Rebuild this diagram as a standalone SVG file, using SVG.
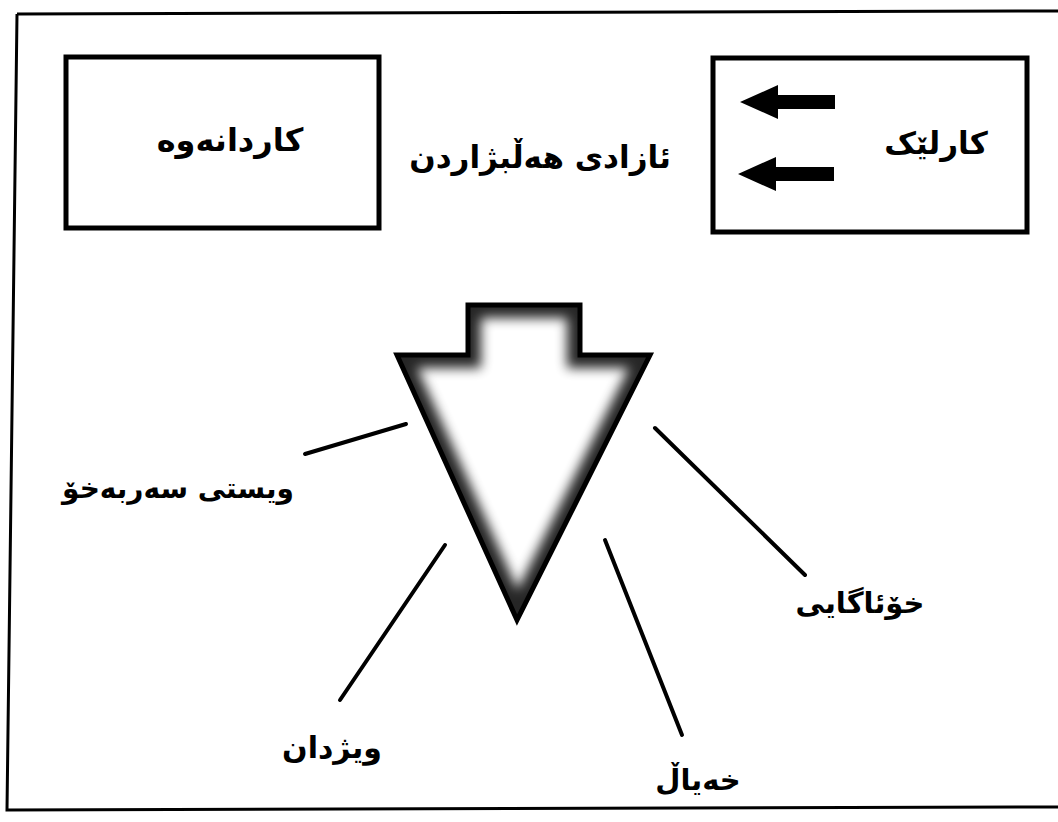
<svg xmlns="http://www.w3.org/2000/svg" width="1058" height="822" viewBox="0 0 1058 822">
<style>
.box{fill:#fff;stroke:#000;stroke-width:5}
.lbl{font-family:"DejaVu Sans",sans-serif;font-weight:bold;font-size:30px;fill:#000;text-anchor:middle;dominant-baseline:central}
.ln{stroke:#000;stroke-width:4;stroke-linecap:round;fill:none}
</style>
<defs>
<clipPath id="ac">
<path d="M468,305 L580,305 L580,355 L650,355 L517,620 L397,355 L468,355 Z"/>
</clipPath>
<filter id="bl" x="-0.2" y="-0.2" width="1.4" height="1.4">
<feGaussianBlur stdDeviation="6"/>
</filter>
</defs>
<rect width="1058" height="822" fill="#fff"/>
<path d="M17,14 L1058,11 M17,14 L7,810 L1058,807" fill="none" stroke="#000" stroke-width="3"/>
<g id="node-response">
<rect class="box" x="66" y="57" width="313" height="171"/>
<text class="lbl" x="230" y="140" style="font-size:32px">کاردانەوە</text>
</g>
<g id="node-freedom">
<text class="lbl" x="540" y="157" style="font-size:31px">ئازادی هەڵبژاردن</text>
</g>
<g id="node-stimulus">
<rect class="box" x="713" y="58" width="314" height="174"/>
<text class="lbl" x="936" y="143" style="font-size:31px">کارلێک</text>
<path d="M835,95 L778,95 L778,85 L740,102 L778,119 L778,109 L835,109 Z" fill="#000"/>
<path d="M834,167 L776,167 L776,157 L738,174 L776,191 L776,181 L834,181 Z" fill="#000"/>
</g>
<g id="node-arrow">
<g clip-path="url(#ac)">
<path d="M468,305 L580,305 L580,355 L650,355 L517,620 L397,355 L468,355 Z" fill="#fff"/>
<path d="M468,305 L580,305 L580,355 L650,355 L517,620 L397,355 L468,355 Z" fill="none" stroke="#000" stroke-width="26" filter="url(#bl)" opacity="0.85"/>
</g>
<path d="M468,305 L580,305 L580,355 L650,355 L517,620 L397,355 L468,355 Z" fill="none" stroke="#000" stroke-width="5" stroke-linejoin="miter"/>
</g>
<g id="node-will"><text class="lbl" x="178" y="488" style="font-size:28px">ویستی سەربەخۆ</text></g>
<g id="node-conscience"><text class="lbl" x="332" y="747">ویژدان</text></g>
<g id="node-imagination"><text class="lbl" x="698" y="780" style="font-size:29px">خەیاڵ</text></g>
<g id="node-selfaware"><text class="lbl" x="860" y="603" style="font-size:29px">خۆئاگایی</text></g>
<g id="connectors">
<line class="ln" x1="305" y1="454" x2="406" y2="424"/>
<line class="ln" x1="445" y1="545" x2="340" y2="700"/>
<line class="ln" x1="605" y1="540" x2="682" y2="735"/>
<line class="ln" x1="655" y1="428" x2="805" y2="575"/>
</g>
</svg>
